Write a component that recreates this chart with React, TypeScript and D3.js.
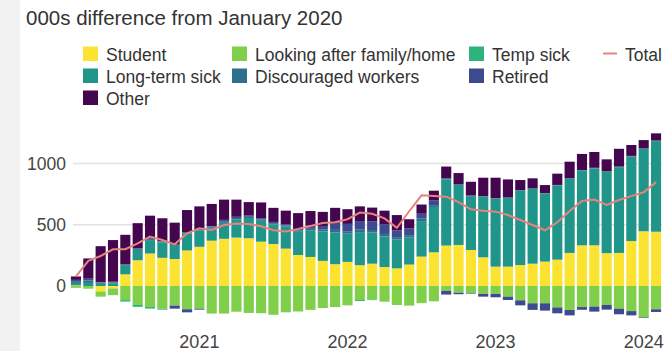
import React from 'react';
import * as d3 from 'd3';

// ---- Data (thousands, difference from January 2020) ----
const months: Date[] = d3.timeMonth.range(new Date(2020, 2, 1), new Date(2024, 2, 1)); // Mar 2020 .. Feb 2024

const student = [5, 0, -45, -20, 95, 210, 265, 230, 220, 290, 320, 370, 385, 395, 390, 362, 343, 305, 253, 237, 205, 178, 197, 170, 182, 155, 144, 175, 240, 275, 330, 335, 294, 234, 158, 158, 171, 182, 199, 215, 270, 332, 332, 268, 270, 367, 447, 443];
const lookingAfterFamily = [-15, -22, -42, -55, -115, -155, -170, -185, -160, -190, -185, -225, -225, -210, -220, -222, -235, -215, -208, -195, -180, -172, -158, -115, -110, -128, -155, -160, -140, -125, -40, -55, -57, -65, -65, -87, -117, -141, -141, -175, -196, -172, -168, -155, -185, -205, -255, -190];
const tempSick = [0, 0, 0, 0, -12, -15, -14, -8, 0, 0, 0, 0, 0, 0, 0, 0, 0, 0, 0, 0, 0, 0, 0, -8, -5, 0, 0, 0, 0, 0, 0, 0, 0, 0, 0, 0, 0, 0, 0, 0, 0, 0, 0, 0, 0, 0, 0, 0];
const longTermSick = [20, 25, 18, 22, 70, 85, 110, 125, 115, 140, 135, 105, 130, 150, 165, 170, 160, 180, 190, 215, 240, 260, 230, 270, 255, 250, 235, 220, 290, 370, 540, 490, 440, 495, 555, 560, 607, 610, 555, 605, 605, 610, 628, 664, 700, 690, 672, 740];
const discouraged = [15, 20, 10, 8, 8, 8, 8, 8, 8, 10, 10, 10, 10, 10, 10, 12, 10, 10, 12, 15, 15, 20, 20, 20, 20, 20, 20, 20, 20, 15, 10, 5, 5, 5, 5, 5, 5, 5, 5, 5, 5, 5, 5, 5, 5, 5, 5, 5];
const retired = [10, 15, 5, 5, 5, 5, 6, 5, -25, -25, -8, 5, 15, 10, 10, 10, 10, 10, 10, 30, 30, 60, 60, 70, 70, 80, 55, 55, 40, 40, -30, -12, -5, -22, -27, -27, -41, -54, -60, -48, -44, -22, -41, -38, -46, -35, -5, -22];
const other = [28, 165, 292, 340, 240, 205, 185, 185, 174, 180, 185, 180, 165, 140, 110, 128, 115, 110, 130, 115, 115, 120, 120, 120, 113, 110, 125, 75, 75, 78, 95, 92, 112, 150, 166, 147, 82, 82, 65, 92, 135, 131, 129, 97, 145, 89, 67, 58];
const total = [78, 205, 245, 300, 300, 348, 403, 375, 340, 430, 471, 457, 498, 511, 506, 487, 455, 445, 465, 490, 515, 520, 545, 600, 590, 552, 475, 610, 740, 735, 729, 685, 626, 615, 607, 579, 539, 498, 455, 520, 612, 695, 705, 661, 702, 734, 765, 848];

const yTicks = [0, 500, 1000];
const yearTicks = ['2021', '2022', '2023', '2024'];

const seriesKeys = ['student', 'laf', 'temp', 'lt', 'disc', 'ret', 'other'];
const seriesLabels = ['Student', 'Looking after family/home', 'Temp sick', 'Long-term sick', 'Discouraged workers', 'Retired', 'Other'];
const seriesColors = ['#fde331', '#80cf4a', '#2db37c', '#20968b', '#2c6f8f', '#3d4a8f', '#44064f'];
const totalColor = '#e9827c';

const W = 664;
const H = 351;
const FONT = '"Liberation Sans", Arial, Helvetica, sans-serif';

export default function App() {
  const rows = months.map((m, i) => ({
    i,
    student: student[i],
    laf: lookingAfterFamily[i],
    temp: tempSick[i],
    lt: longTermSick[i],
    disc: discouraged[i],
    ret: retired[i],
    other: other[i],
  }));

  const stacked = d3
    .stack<any>()
    .keys(seriesKeys)
    .offset(d3.stackOffsetDiverging)(rows);

  const x = d3
    .scaleBand<number>()
    .domain(d3.range(months.length))
    .range([69.8, 662.2])
    .paddingInner(0.18)
    .paddingOuter(0.09);

  const y = d3.scaleLinear().domain([0, 1000]).range([286, 163.5]);

  const line = d3
    .line<number>()
    .x((_, i) => (x(i) as number) + x.bandwidth() / 2)
    .y((d) => y(d))
    .curve(d3.curveLinear);

  const yearIdx = yearTicks.map((yr) =>
    months.findIndex((m) => m.getFullYear() === +yr && m.getMonth() === 0)
  );

  // legend layout (grid positions)
  const colX = [83, 232, 469, 603];
  const rowY = [60.5, 82.5, 104.5];
  const legendItems = [
    { s: 0, c: 0, r: 0 },
    { s: 1, c: 1, r: 0 },
    { s: 2, c: 2, r: 0 },
    { s: 3, c: 0, r: 1 },
    { s: 4, c: 1, r: 1 },
    { s: 5, c: 2, r: 1 },
    { s: 6, c: 0, r: 2 },
  ];

  return (
    <svg
      width={W}
      height={H}
      style={{ position: 'absolute', left: 0, top: 0, background: '#fff' }}
      fontFamily={FONT}
    >
      <rect x={0} y={0} width={W} height={H} fill="#fff" />
      <rect x={0} y={0} width={20} height={H} fill="#f2f2f2" />

      <text x={26} y={24.5} fontSize={20.5} fill="#333">
        000s difference from January 2020
      </text>

      {legendItems.map((it) => (
        <g key={it.s}>
          <rect
            x={colX[it.c]}
            y={rowY[it.r] - 14}
            width={15}
            height={14.5}
            fill={seriesColors[it.s]}
          />
          <text x={colX[it.c] + 23} y={rowY[it.r]} fontSize={17.5} fill="#333">
            {seriesLabels[it.s]}
          </text>
        </g>
      ))}
      <line x1={colX[3]} x2={colX[3] + 14} y1={rowY[0] - 7} y2={rowY[0] - 7} stroke={totalColor} strokeWidth={2} />
      <text x={colX[3] + 22} y={rowY[0]} fontSize={17.5} fill="#333">
        Total
      </text>

      {yTicks.map((t) => (
        <g key={t}>
          {t !== 0 && (
            <line x1={73} x2={662} y1={y(t)} y2={y(t)} stroke="#e2e2e2" strokeWidth={1.5} />
          )}
          <text x={66} y={y(t)} dy="0.35em" textAnchor="end" fontSize={17.5} fill="#444">
            {t}
          </text>
        </g>
      ))}

      {stacked.map((s, si) => (
        <g key={s.key} fill={seriesColors[si]}>
          {s.map((d, i) => {
            const y0 = y(d[0]);
            const y1 = y(d[1]);
            const h = Math.abs(y0 - y1);
            if (h < 0.01) return null;
            return (
              <rect
                key={i}
                x={x(i) as number}
                y={Math.min(y0, y1)}
                width={x.bandwidth()}
                height={h}
              />
            );
          })}
        </g>
      ))}

      <path d={line(total) || ''} fill="none" stroke={totalColor} strokeWidth={2} />

      {yearTicks.map((yr, k) => (
        <text
          key={yr}
          x={(x(yearIdx[k]) as number) + x.bandwidth() / 2}
          y={348}
          textAnchor="middle"
          fontSize={18}
          fill="#444"
        >
          {yr}
        </text>
      ))}
    </svg>
  );
}
